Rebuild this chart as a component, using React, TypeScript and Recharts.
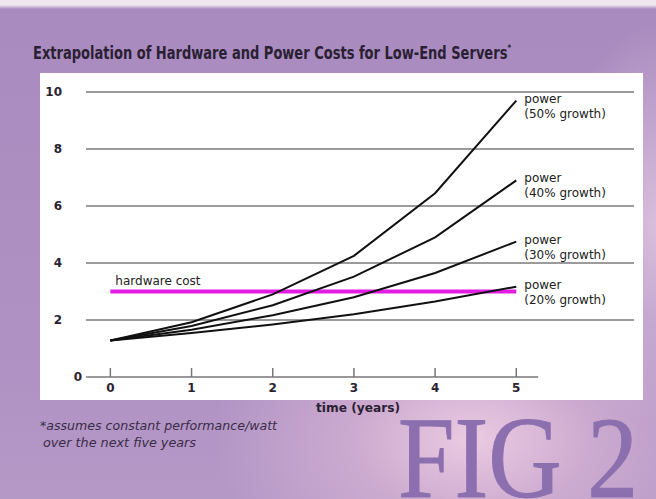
import React from "react";
import {
  CartesianGrid,
  LabelList,
  Line,
  LineChart,
  ReferenceLine,
  XAxis,
  YAxis,
} from "recharts";

const years = [0, 1, 2, 3, 4, 5];
const power50 = [1.28, 1.92, 2.9, 4.25, 6.45, 9.7];
const power40 = [1.28, 1.79, 2.52, 3.52, 4.9, 6.9];
const power30 = [1.28, 1.66, 2.17, 2.8, 3.65, 4.75];
const power20 = [1.28, 1.54, 1.84, 2.2, 2.65, 3.17];
const hardwareCost = [3, 3, 3, 3, 3, 3];
const yTicks = [0, 2, 4, 6, 8, 10];
const gridValues = [2, 4, 6, 8, 10];

const seriesLabels = [
  { key: "p50", text: "(50% growth)" },
  { key: "p40", text: "(40% growth)" },
  { key: "p30", text: "(30% growth)" },
  { key: "p20", text: "(20% growth)" },
];

const data = years.map((t, i) => ({
  t,
  p50: power50[i],
  p40: power40[i],
  p30: power30[i],
  p20: power20[i],
  hw: hardwareCost[i],
}));

const labelFont = "'DejaVu Sans', Verdana, sans-serif";

function YTick(props: any) {
  const { y, payload } = props;
  const zero = payload.value === 0;
  return (
    <text
      x={zero ? 82 : 62}
      y={y}
      dy={4}
      textAnchor="end"
      fontFamily={labelFont}
      fontWeight="bold"
      fontSize={12}
      fill="#2a2230"
    >
      {payload.value}
    </text>
  );
}

function XTick(props: any) {
  const { x, y, payload } = props;
  return (
    <g>
      <line x1={x} x2={x} y1={y - 9} y2={y} stroke="#777" strokeWidth={1.5} />
      <text
        x={x}
        y={y}
        dy={15}
        textAnchor="middle"
        fontFamily={labelFont}
        fontWeight="bold"
        fontSize={12}
        fill="#2a2230"
      >
        {payload.value}
      </text>
    </g>
  );
}

function endLabel(text: string) {
  return (props: any) => {
    const { x, y, index } = props;
    if (index !== years.length - 1) return null;
    return (
      <g fontFamily={labelFont} fontSize={12} fill="#222">
        <text x={x + 8} y={y + 2}>power</text>
        <text x={x + 8} y={y + 17}>{text}</text>
      </g>
    );
  };
}

function hardwareLabel(props: any) {
  const { x, y, index } = props;
  if (index !== 0) return null;
  return (
    <text x={x + 5} y={y - 7} fontFamily={labelFont} fontSize={12} fill="#222">
      hardware cost
    </text>
  );
}

export default function App() {
  return (
    <div
      style={{
        position: "absolute",
        left: 0,
        top: 0,
        width: 656,
        height: 499,
        overflow: "hidden",
        background:
          "radial-gradient(ellipse 260px 160px at 72% 88%, rgba(238,205,228,0.95) 0%, rgba(222,185,215,0.6) 45%, rgba(200,160,200,0) 100%), radial-gradient(ellipse 100px 200px at 100% 45%, rgba(236,210,232,0.7) 0%, rgba(236,210,232,0) 100%), linear-gradient(180deg, #efe6f0 0px, #efe6f0 5px, #a98bbf 9px, #ae90c3 60%, #b498c6 100%)",
      }}
    >
      <div
        style={{
          position: "absolute",
          left: 40,
          top: 73,
          width: 603,
          height: 327,
          background: "#ffffff",
        }}
      />
      <svg
        width={656}
        height={499}
        style={{ position: "absolute", left: 0, top: 0 }}
      >
        <text
          x={33}
          y={59}
          fontFamily="'Liberation Sans Narrow', 'DejaVu Sans Condensed', 'Liberation Sans', sans-serif"
          fontWeight="bold"
          fontSize={17}
          fill="#2a1f33"
          textLength={478}
          lengthAdjust="spacingAndGlyphs"
        >
          Extrapolation of Hardware and Power Costs for Low-End Servers
          <tspan fontSize={9} dy={-8}>*</tspan>
        </text>
        <text
          x={316}
          y={412}
          fontFamily={labelFont}
          fontWeight="bold"
          fontSize={12}
          fill="#2a1f33"
          textLength={84}
          lengthAdjust="spacingAndGlyphs"
        >
          time (years)
        </text>
        <g fontFamily={labelFont} fontStyle="italic" fontSize={13} fill="#3a2b47">
          <text x={40} y={430} textLength={237} lengthAdjust="spacingAndGlyphs">
            *assumes constant performance/watt
          </text>
          <text x={43} y={447} textLength={153} lengthAdjust="spacingAndGlyphs">
            over the next five years
          </text>
        </g>
        <text
          x={398}
          y={497}
          fontFamily="'Liberation Serif', 'DejaVu Serif', serif"
          fontSize={116}
          fill="#8c6fae"
          stroke="#8c6fae"
          strokeWidth={1}
          textLength={240}
          lengthAdjust="spacingAndGlyphs"
        >
          FIG 2
        </text>
      </svg>
      <div style={{ position: "absolute", left: 0, top: 0 }}>
        <LineChart
          width={656}
          height={499}
          data={data}
          margin={{ top: 92, right: 22, bottom: 92, left: 38 }}
        >
          <CartesianGrid
            horizontal
            vertical={false}
            horizontalValues={gridValues}
            stroke="#7a7a7a"
            strokeWidth={1.5}
          />
          <XAxis
            dataKey="t"
            type="number"
            domain={[-0.3, 6.45]}
            ticks={years}
            allowDataOverflow
            axisLine={false}
            tickLine={false}
            tickSize={0}
            tickMargin={0}
            height={30}
            tick={<XTick />}
          />
          <YAxis
            type="number"
            domain={[0, 10]}
            ticks={yTicks}
            axisLine={false}
            tickLine={false}
            width={48}
            tick={<YTick />}
          />
          <ReferenceLine
            segment={[
              { x: -0.3, y: 0 },
              { x: 5.27, y: 0 },
            ]}
            stroke="#777"
            strokeWidth={1.5}
            ifOverflow="visible"
          />
          <Line
            dataKey="hw"
            type="linear"
            stroke="#e31ce3"
            strokeWidth={4}
            dot={false}
            isAnimationActive={false}
          >
            <LabelList dataKey="hw" content={hardwareLabel} />
          </Line>
          {seriesLabels.map((s) => (
            <Line
              key={s.key}
              dataKey={s.key}
              type="linear"
              stroke="#111"
              strokeWidth={2}
              dot={false}
              isAnimationActive={false}
            >
              <LabelList dataKey={s.key} content={endLabel(s.text)} />
            </Line>
          ))}
        </LineChart>
      </div>
    </div>
  );
}
